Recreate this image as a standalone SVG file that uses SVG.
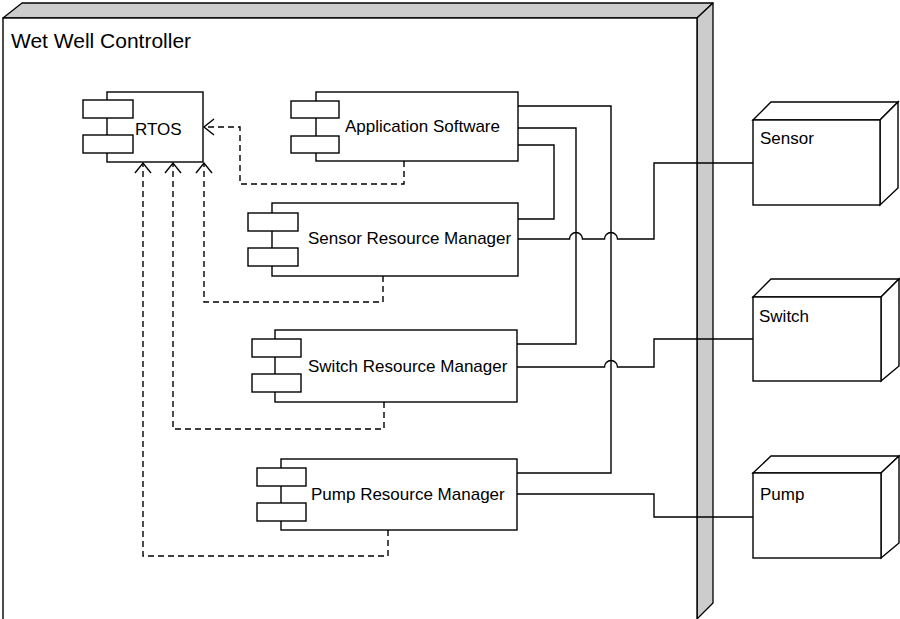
<svg xmlns="http://www.w3.org/2000/svg" width="900" height="619" viewBox="0 0 900 619">
<style>
  .ln { fill: none; stroke: #000; stroke-width: 1.4; }
  .dash { fill: none; stroke: #000; stroke-width: 1.4; stroke-dasharray: 6 4; }
  .box { fill: #fff; stroke: #000; stroke-width: 1.4; }
  .side { fill: #cccccc; stroke: #000; stroke-width: 1.3; stroke-linejoin: round; }
  .lbl { font-family: "Liberation Sans", Arial, sans-serif; font-size: 17px; fill: #000; }
  .title { font-family: "Liberation Sans", Arial, sans-serif; font-size: 21px; fill: #000; }
</style>
<defs>
  <marker id="open" markerUnits="userSpaceOnUse" markerWidth="22" markerHeight="22" viewBox="0 0 22 22" refX="11" refY="11" orient="auto">
    <path d="M1 3 L11 11 L1 19" fill="none" stroke="#000" stroke-width="1.4"/>
  </marker>
</defs>
<rect width="900" height="619" fill="#fff"/>

<g id="wet-well-controller">
  <polygon class="side" points="3,18 22,3 713,3 697,18"/>
  <polygon class="side" points="697,18 713,3 713,603 697,619"/>
  <rect class="box" x="3" y="18" width="694" height="602" stroke-width="1.3"/>
  <text class="title" x="11" y="48">Wet Well Controller</text>
</g>

<g id="rtos">
  <rect class="box" x="107" y="92" width="96" height="70"/>
  <rect class="box" x="83" y="100" width="50" height="18"/>
  <rect class="box" x="83" y="135" width="50" height="18"/>
  <text class="lbl" x="135" y="135">RTOS</text>
</g>

<g id="application-software">
  <rect class="box" x="316" y="92" width="202" height="69"/>
  <rect class="box" x="291" y="101" width="48" height="17"/>
  <rect class="box" x="291" y="136" width="48" height="17"/>
  <text class="lbl" x="345" y="132">Application Software</text>
</g>

<g id="sensor-resource-manager">
  <rect class="box" x="272" y="203" width="246" height="73"/>
  <rect class="box" x="248" y="213" width="50" height="18"/>
  <rect class="box" x="248" y="248" width="50" height="18"/>
  <text class="lbl" x="308" y="244">Sensor Resource Manager</text>
</g>

<g id="switch-resource-manager">
  <rect class="box" x="275" y="330" width="242" height="72"/>
  <rect class="box" x="252" y="339" width="49" height="18"/>
  <rect class="box" x="252" y="374" width="49" height="18"/>
  <text class="lbl" x="308" y="372">Switch Resource Manager</text>
</g>

<g id="pump-resource-manager">
  <rect class="box" x="281" y="459" width="236" height="71"/>
  <rect class="box" x="257" y="468" width="49" height="18"/>
  <rect class="box" x="257" y="503" width="49" height="18"/>
  <text class="lbl" x="311" y="500">Pump Resource Manager</text>
</g>

<g id="connectors">
  <path class="dash" d="M404 161 V184 H240 V127 H204" marker-end="url(#open)"/>
  <path class="dash" d="M383 276 V302 H204 V163" marker-end="url(#open)"/>
  <path class="dash" d="M384 402 V429 H173 V163" marker-end="url(#open)"/>
  <path class="dash" d="M388 530 V556 H143 V163" marker-end="url(#open)"/>

  <path class="ln" d="M518 106 H611 V473 H517"/>
  <path class="ln" d="M518 128 H576 V344 H517"/>
  <path class="ln" d="M518 145 H554 V219 H518"/>
  <path class="ln" d="M518 239 H569.5 A6.5 6.5 0 0 1 582.5 239 H604.5 A6.5 6.5 0 0 1 617.5 239 H654 V163 H753"/>
  <path class="ln" d="M517 367 H604.5 A6.5 6.5 0 0 1 617.5 367 H654 V339 H753"/>
  <path class="ln" d="M517 494 H654 V517 H753"/>
</g>

<g id="sensor">
  <polygon class="box" points="753,120 771,102 898,102 880,120"/>
  <polygon class="box" points="880,120 898,102 898,188 880,205"/>
  <rect class="box" x="753" y="120" width="127" height="85"/>
  <text class="lbl" x="760" y="144">Sensor</text>
</g>

<g id="switch">
  <polygon class="box" points="753,297 771,279 899,279 881,297"/>
  <polygon class="box" points="881,297 899,279 899,366 881,381"/>
  <rect class="box" x="753" y="297" width="128" height="84"/>
  <text class="lbl" x="759" y="322">Switch</text>
</g>

<g id="pump">
  <polygon class="box" points="753,473 771,456 899,456 881,473"/>
  <polygon class="box" points="881,473 899,456 899,543 881,558"/>
  <rect class="box" x="753" y="473" width="128" height="85"/>
  <text class="lbl" x="760" y="500">Pump</text>
</g>
</svg>
